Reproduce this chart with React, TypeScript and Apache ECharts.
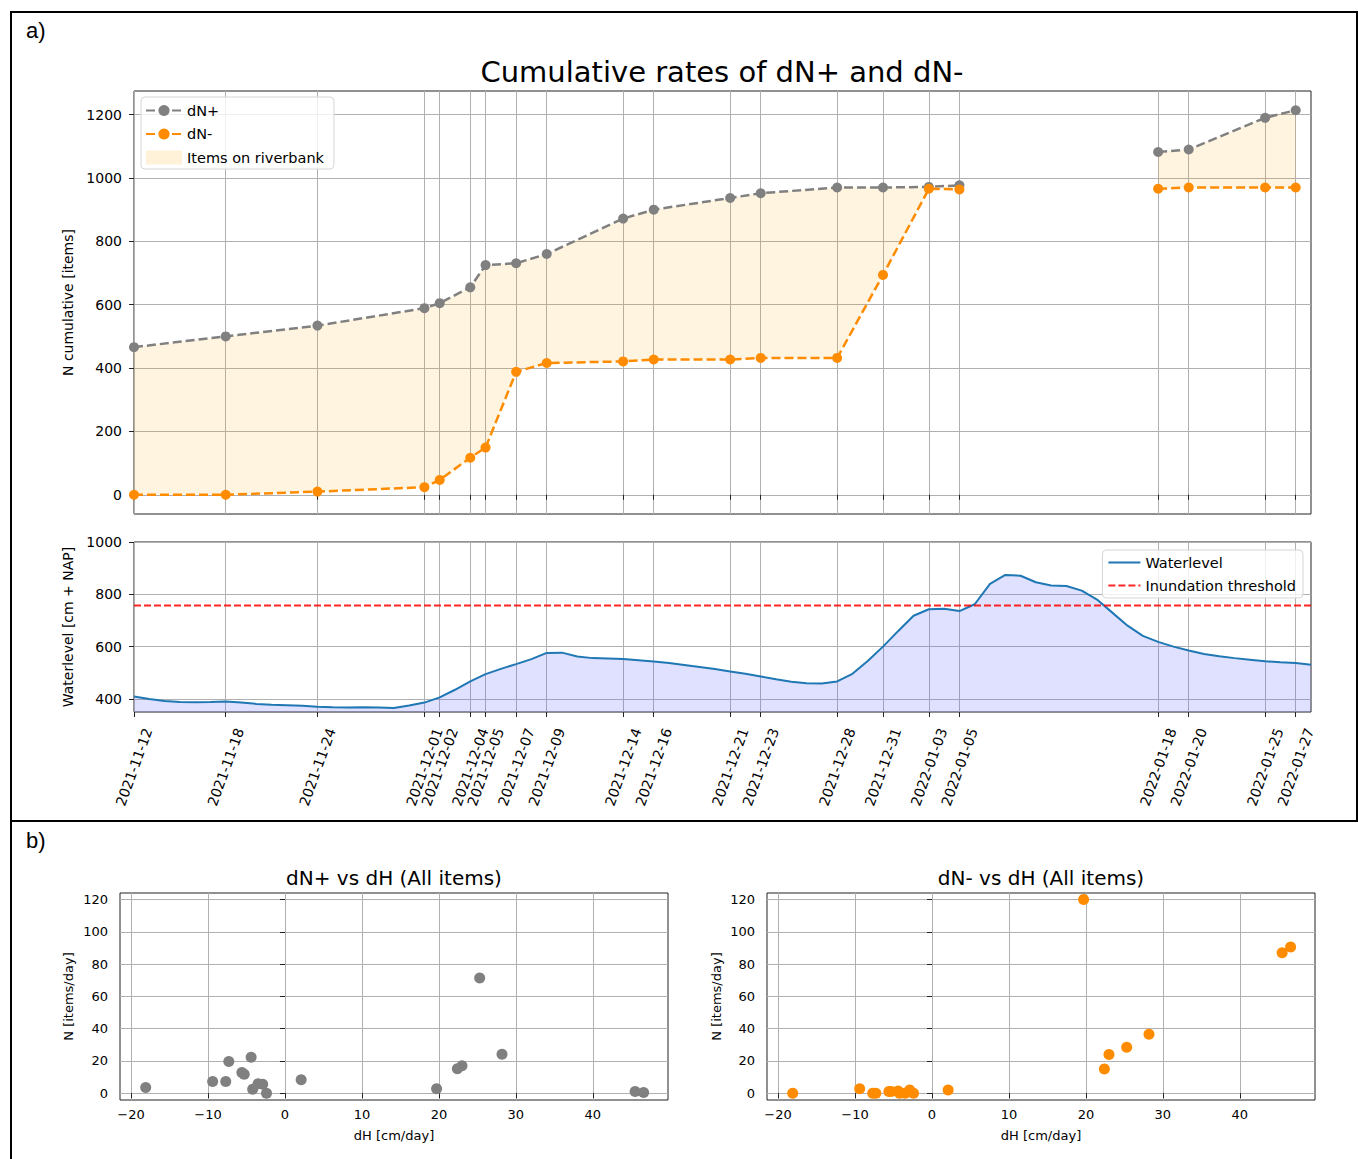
import React, { useEffect, useRef } from "react";
import * as echarts from "echarts";

// ---------- data ----------
const dates = [
  "2021-11-12", "2021-11-18", "2021-11-24", "2021-12-01", "2021-12-02", "2021-12-04",
  "2021-12-05", "2021-12-07", "2021-12-09", "2021-12-14", "2021-12-16", "2021-12-21",
  "2021-12-23", "2021-12-28", "2021-12-31", "2022-01-03", "2022-01-05", "2022-01-18",
  "2022-01-20", "2022-01-25", "2022-01-27",
];
const dNplus = [466, 500, 534, 589, 605, 655, 725, 731, 760, 872, 900, 937, 952, 970, 970, 972, 977, 1082, 1090, 1190, 1214];
const dNminus = [0, 0, 10, 24, 47, 117, 149, 388, 416, 421, 427, 427, 432, 432, 694, 966, 964, 966, 970, 970, 970];
const gapAfter = "2022-01-05";

const waterStart = "2021-11-12";
const waterlevel = [
  409, 400, 392, 388, 387, 388, 390, 386, 381, 378,
  376, 374, 370, 368, 367, 368, 367, 365, 375, 386,
  406, 435, 467, 495, 515, 533, 552, 576, 577, 562,
  556, 555, 553, 548, 543, 537, 530, 522, 514, 505,
  496, 486, 475, 466, 460, 459, 467, 496, 545, 600,
  660, 718, 743, 745, 736, 762, 840, 874, 871, 846,
  834, 832, 814, 780, 730, 680, 641, 618, 600, 585,
  572, 563, 556, 550, 544, 540, 537, 531,
];
const threshold = 757;

const dH = [-18.1, -9.4, -7.7, -7.3, -5.6, -5.3, -4.4, -4.2, -3.5, -2.9, -2.4, 2.1, 19.7, 22.4, 23.0, 25.3, 28.2, 45.5, 46.6];
const dNplusRate = [3.5, 7.2, 7.2, 19.6, 12.8, 11.8, 22.3, 2.5, 5.8, 5.6, 0, 8.3, 2.7, 15.1, 17, 71.4, 24.2, 1, 0.4];
const dNminusRate = [0, 2.7, 0, 0, 1, 1, 1.4, 0, 0, 2, 0, 2, 120, 15, 24, 28.5, 36.5, 87, 90.5];

const cumTicks = [0, 200, 400, 600, 800, 1000, 1200];
const waterTicks = [400, 600, 800, 1000];
const scatterXTicks = [-20, -10, 0, 10, 20, 30, 40];
const scatterYTicks = [0, 20, 40, 60, 80, 100, 120];

// ---------- helpers ----------
const dayOf = (s: string) => {
  const [y, m, d] = s.split("-").map(Number);
  const [y0, m0, d0] = waterStart.split("-").map(Number);
  return (Date.UTC(y, m - 1, d) - Date.UTC(y0, m0 - 1, d0)) / 86400000;
};
const tickDays = dates.map(dayOf);
const gapIndex = dates.indexOf(gapAfter);

function withGap(vals: number[]) {
  const out: any[] = [];
  vals.forEach((v, i) => {
    out.push([tickDays[i], v]);
    if (i === gapIndex) out.push([(tickDays[i] + tickDays[i + 1]) / 2, null]);
  });
  return out;
}
// continuous runs (index ranges) of the cumulative data
const runs: [number, number][] = [[0, gapIndex], [gapIndex + 1, dates.length - 1]];

const FONT = "DejaVu Sans";
const TXT = "#000";
const GRIDC = "#b0b0b0";
const SPINE = "#222";
const FILL = "rgba(255,165,0,0.12)";
const WFILL = "rgba(100,100,255,0.2)";
const GREY = "#808080";
const ORANGE = "#ff8c00";
const minusFmt = (v: number) => (v < 0 ? "\u2212" + Math.abs(v) : String(v));

export default function App() {
  const ref = useRef<HTMLDivElement>(null);
  useEffect(() => {
    if (!ref.current) return;
    const chart = echarts.init(ref.current, undefined, { renderer: "svg" });

    const gridBase = { show: true, borderColor: SPINE, borderWidth: 1, backgroundColor: "transparent" };
    const tickBase = (vals: number[]) => ({ show: true, customValues: vals, length: 5, lineStyle: { color: SPINE } });
    const split = { show: true, lineStyle: { color: GRIDC, width: 1 } };
    const labelBase = { color: TXT, fontFamily: FONT, fontSize: 14 };
    const hiddenIcon = { opacity: 0, color: "rgba(0,0,0,0)", borderWidth: 0 };

    const bandRender = (params: any, api: any) => {
      const [a, b] = runs[params.dataIndex];
      const pts: number[][] = [];
      for (let i = a; i <= b; i++) pts.push(api.coord([tickDays[i], dNplus[i]]));
      for (let i = b; i >= a; i--) pts.push(api.coord([tickDays[i], dNminus[i]]));
      return { type: "polygon", shape: { points: pts }, style: { fill: FILL, stroke: "none" } };
    };

    const option: any = {
      animation: false,
      backgroundColor: "#fff",
      title: [
        { text: "Cumulative rates of dN+ and dN-", left: 722, top: 57, textAlign: "center", padding: 0,
          textStyle: { fontFamily: FONT, fontSize: 29, fontWeight: "normal", color: TXT } },
        { text: "dN+ vs dH (All items)", left: 394, top: 868, textAlign: "center", padding: 0,
          textStyle: { fontFamily: FONT, fontSize: 20, fontWeight: "normal", color: TXT } },
        { text: "dN- vs dH (All items)", left: 1041, top: 868, textAlign: "center", padding: 0,
          textStyle: { fontFamily: FONT, fontSize: 20, fontWeight: "normal", color: TXT } },
      ],
      grid: [
        { left: 134, top: 91, width: 1177, height: 423, ...gridBase },
        { left: 134, top: 542, width: 1177, height: 170, ...gridBase },
        { left: 120, top: 893, width: 548, height: 207, ...gridBase },
        { left: 767, top: 893, width: 548, height: 207, ...gridBase },
      ],
      xAxis: [
        { gridIndex: 0, type: "value", min: 0, max: 77, axisLine: { show: false },
          axisTick: tickBase(tickDays), axisLabel: { show: false, customValues: tickDays }, splitLine: split },
        { gridIndex: 1, type: "value", min: 0, max: 77, axisLine: { show: false },
          axisTick: tickBase(tickDays),
          axisLabel: { ...labelBase, customValues: tickDays, rotate: 70, align: "center", verticalAlign: "middle", margin: 55,
            formatter: (v: number) => { const i = tickDays.indexOf(Math.round(v)); return i >= 0 ? dates[i] : ""; } },
          splitLine: split },
        { gridIndex: 2, type: "value", min: -21.44, max: 49.77, axisLine: { show: false },
          axisTick: tickBase(scatterXTicks),
          axisLabel: { ...labelBase, fontSize: 13, customValues: scatterXTicks, margin: 8, formatter: minusFmt },
          splitLine: split, name: "dH [cm/day]", nameLocation: "middle", nameGap: 29,
          nameTextStyle: { ...labelBase, fontSize: 13 } },
        { gridIndex: 3, type: "value", min: -21.44, max: 49.77, axisLine: { show: false },
          axisTick: tickBase(scatterXTicks),
          axisLabel: { ...labelBase, fontSize: 13, customValues: scatterXTicks, margin: 8, formatter: minusFmt },
          splitLine: split, name: "dH [cm/day]", nameLocation: "middle", nameGap: 29,
          nameTextStyle: { ...labelBase, fontSize: 13 } },
      ],
      yAxis: [
        { gridIndex: 0, type: "value", min: -60.7, max: 1274.7, axisLine: { show: false },
          axisTick: tickBase(cumTicks),
          axisLabel: { ...labelBase, customValues: cumTicks, margin: 12, formatter: (v: number) => String(v) },
          splitLine: split, name: "N cumulative [items]", nameLocation: "middle", nameGap: 56,
          nameTextStyle: { ...labelBase } },
        { gridIndex: 1, type: "value", min: 350, max: 1000, axisLine: { show: false },
          axisTick: tickBase(waterTicks),
          axisLabel: { ...labelBase, customValues: waterTicks, margin: 12, formatter: (v: number) => String(v) },
          splitLine: split, name: "Waterlevel [cm + NAP]", nameLocation: "middle", nameGap: 57,
          nameTextStyle: { ...labelBase } },
        { gridIndex: 2, type: "value", min: -4.2, max: 124, axisLine: { show: false },
          axisTick: tickBase(scatterYTicks),
          axisLabel: { ...labelBase, fontSize: 13, customValues: scatterYTicks, margin: 12, formatter: (v: number) => String(v) },
          splitLine: split, name: "N [items/day]", nameLocation: "middle", nameGap: 45,
          nameTextStyle: { ...labelBase, fontSize: 13 } },
        { gridIndex: 3, type: "value", min: -4.2, max: 124, axisLine: { show: false },
          axisTick: tickBase(scatterYTicks),
          axisLabel: { ...labelBase, fontSize: 13, customValues: scatterYTicks, margin: 12, formatter: (v: number) => String(v) },
          splitLine: split, name: "N [items/day]", nameLocation: "middle", nameGap: 44,
          nameTextStyle: { ...labelBase, fontSize: 13 } },
      ],
      legend: [
        { data: [{ name: "dN+" }, { name: "dN-" }, { name: "Items on riverbank", icon: "rect", itemStyle: { color: "rgba(255,165,0,0.15)" } }],
          orient: "vertical", left: 141, top: 97, itemWidth: 36, itemHeight: 14, itemGap: 8.5,
          padding: [6, 10, 4, 4], textStyle: { fontFamily: FONT, fontSize: 14.5, color: TXT },
          backgroundColor: "rgba(255,255,255,0.8)", borderColor: "#d6d6d6", borderWidth: 1, borderRadius: 4 },
        { data: [{ name: "Waterlevel", itemStyle: hiddenIcon }, { name: "Inundation threshold", itemStyle: hiddenIcon }],
          orient: "vertical", right: 55, top: 550, itemWidth: 32, itemHeight: 14, itemGap: 8,
          padding: [5, 7, 5, 5], textStyle: { fontFamily: FONT, fontSize: 14.5, color: TXT },
          backgroundColor: "rgba(255,255,255,0.8)", borderColor: "#d6d6d6", borderWidth: 1, borderRadius: 4 },
      ],
      series: [
        { name: "Items on riverbank", type: "custom", xAxisIndex: 0, yAxisIndex: 0,
          data: runs.map(([a, b]) => [tickDays[a], tickDays[b], dNminus[a]]),
          encode: { x: [0, 1], y: [2] }, renderItem: bandRender, itemStyle: { color: FILL }, silent: true, z: 1 },
        { name: "dN+", type: "line", xAxisIndex: 0, yAxisIndex: 0, data: withGap(dNplus),
          symbol: "circle", symbolSize: 10, showAllSymbol: true, itemStyle: { color: GREY },
          lineStyle: { color: GREY, width: 2.5, type: [9, 4] }, z: 3 },
        { name: "dN-", type: "line", xAxisIndex: 0, yAxisIndex: 0, data: withGap(dNminus),
          symbol: "circle", symbolSize: 10, showAllSymbol: true, itemStyle: { color: ORANGE },
          lineStyle: { color: ORANGE, width: 2.5, type: [9, 4] }, z: 3 },
        { name: "Waterlevel", type: "line", xAxisIndex: 1, yAxisIndex: 1,
          data: waterlevel.map((v, i) => [i, v]), symbol: "none", itemStyle: { color: "#1f77b4" },
          lineStyle: { color: "#1f77b4", width: 2 }, areaStyle: { color: WFILL, opacity: 1, origin: "start" }, z: 2 },
        { name: "Inundation threshold", type: "line", xAxisIndex: 1, yAxisIndex: 1,
          data: [[0, threshold], [77, threshold]], symbol: "none", itemStyle: { color: "rgba(255,0,0,0.85)" },
          lineStyle: { color: "rgba(255,0,0,0.85)", width: 2, type: [7, 3] }, z: 3 },
        { name: "dN+ rate", type: "scatter", xAxisIndex: 2, yAxisIndex: 2,
          data: dH.map((x, i) => [x, dNplusRate[i]]), symbolSize: 11, itemStyle: { color: GREY, opacity: 1 } },
        { name: "dN- rate", type: "scatter", xAxisIndex: 3, yAxisIndex: 3,
          data: dH.map((x, i) => [x, dNminusRate[i]]), symbolSize: 11, itemStyle: { color: ORANGE, opacity: 1 } },
      ],
      graphic: [
        { type: "line", shape: { x1: 10, y1: 12, x2: 1358, y2: 12 }, style: { stroke: "#000", lineWidth: 2 } },
        { type: "line", shape: { x1: 11, y1: 11, x2: 11, y2: 1159 }, style: { stroke: "#000", lineWidth: 2 } },
        { type: "line", shape: { x1: 1357, y1: 11, x2: 1357, y2: 821 }, style: { stroke: "#000", lineWidth: 2 } },
        { type: "line", shape: { x1: 10, y1: 821, x2: 1358, y2: 821 }, style: { stroke: "#000", lineWidth: 2 } },
        { type: "text", x: 26, y: 19, style: { text: "a)", font: "22px 'Liberation Sans'", fill: "#000" } },
        { type: "text", x: 26, y: 829, style: { text: "b)", font: "22px 'Liberation Sans'", fill: "#000" } },
      ],
    };
    chart.setOption(option);
    return () => chart.dispose();
  }, []);
  return (
    <div
      ref={ref}
      style={{ position: "absolute", left: 0, top: 0, width: 1358, height: 1159, background: "#fff" }}
    />
  );
}
